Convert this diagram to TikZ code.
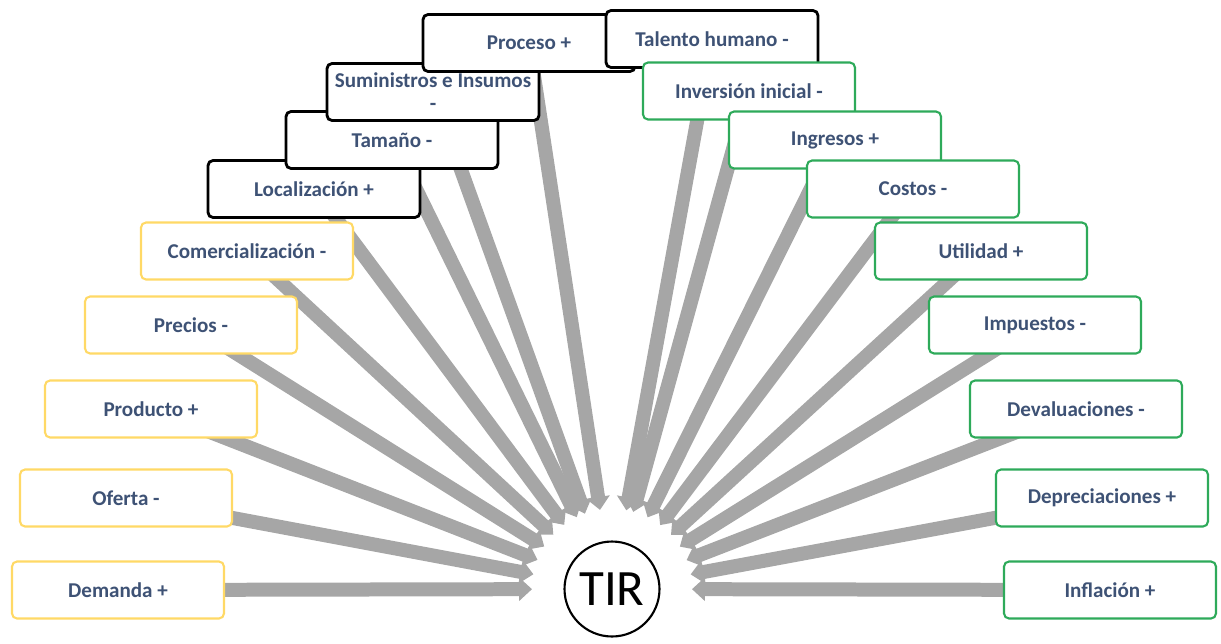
\documentclass[tikz,border=0pt]{standalone}
\usepackage{fontspec}
\setmainfont{Carlito}
\usetikzlibrary{arrows.meta,backgrounds}
\definecolor{txtblue}{HTML}{3E5275}
\definecolor{boxyellow}{HTML}{FFD966}
\definecolor{boxgreen}{RGB}{46,170,90}
\definecolor{raygray}{HTML}{A6A6A6}
\tikzstyle{factor} = [rectangle, rounded corners=0.1cm, minimum width=4.24cm, minimum height=1.14cm, text centered, fill=white, text=txtblue, font=\fontsize{12}{13}\selectfont\bfseries, line width=1.2pt]
\tikzstyle{market} = [factor, draw=boxyellow]
\tikzstyle{technical} = [factor, draw=black, line width=1.6pt]
\tikzstyle{finance} = [factor, draw=boxgreen]
\tikzstyle{ray} = [line width=0.28cm, draw=raygray, -{Triangle[width=0.46cm,length=0.26cm]}, shorten >=1.6cm]

\begin{document}
\begin{tikzpicture}[x=0.02cm, y=-0.02cm]
      \useasboundingbox (0,0) rectangle (1221,643);
      % market study (left)
      \node (dem)[market] at (118,590) {Demanda +};
      \node (ofe)[market] at (126,498) {Oferta -};
      \node (pro)[market] at (151,409) {Producto +};
      \node (pre)[market] at (191,325) {Precios -};
      \node (com)[market] at (247,251) {Comercialización -};
      % technical study (top)
      \node (loc)[technical] at (314,189) {Localización +};
      \node (tam)[technical] at (392,140) {Tamaño -};
      \node (sum)[technical, align=center, inner xsep=1pt] at (433,92) {Suministros e Insumos\\-};
      \node (prc)[technical] at (529,43) {Proceso +};
      \node (tal)[technical] at (712,39) {Talento humano -};
      % financial study (right)
      \node (inv)[finance] at (749,91) {Inversión inicial -};
      \node (ing)[finance] at (835,140) {Ingresos +};
      \node (cos)[finance] at (913,189) {Costos -};
      \node (uti)[finance] at (981,251) {Utilidad +};
      \node (imp)[finance] at (1035,325) {Impuestos -};
      \node (dev)[finance] at (1076,409) {Devaluaciones -};
      \node (dep)[finance] at (1102,498) {Depreciaciones +};
      \node (inf)[finance] at (1110,590) {Inflación +};
      \node (tir)[circle, draw, line width=1.2pt, minimum size=1.9cm, inner sep=0pt, font=\fontsize{29}{30}\selectfont] at (612,589) {TIR};
      \begin{scope}[on background layer]
      \draw [ray](dem.center)--(tir.center);
      \draw [ray](ofe.center)--(tir.center);
      \draw [ray](pro.center)--(tir.center);
      \draw [ray](pre.center)--(tir.center);
      \draw [ray](com.center)--(tir.center);
      \draw [ray](loc.center)--(tir.center);
      \draw [ray](tam.center)--(tir.center);
      \draw [ray](sum.center)--(tir.center);
      \draw [ray](prc.center)--(tir.center);
      \draw [ray](tal.center)--(tir.center);
      \draw [ray](inv.center)--(tir.center);
      \draw [ray](ing.center)--(tir.center);
      \draw [ray](cos.center)--(tir.center);
      \draw [ray](uti.center)--(tir.center);
      \draw [ray](imp.center)--(tir.center);
      \draw [ray](dev.center)--(tir.center);
      \draw [ray](dep.center)--(tir.center);
      \draw [ray](inf.center)--(tir.center);
      \end{scope}
    \end{tikzpicture}
\end{document}
